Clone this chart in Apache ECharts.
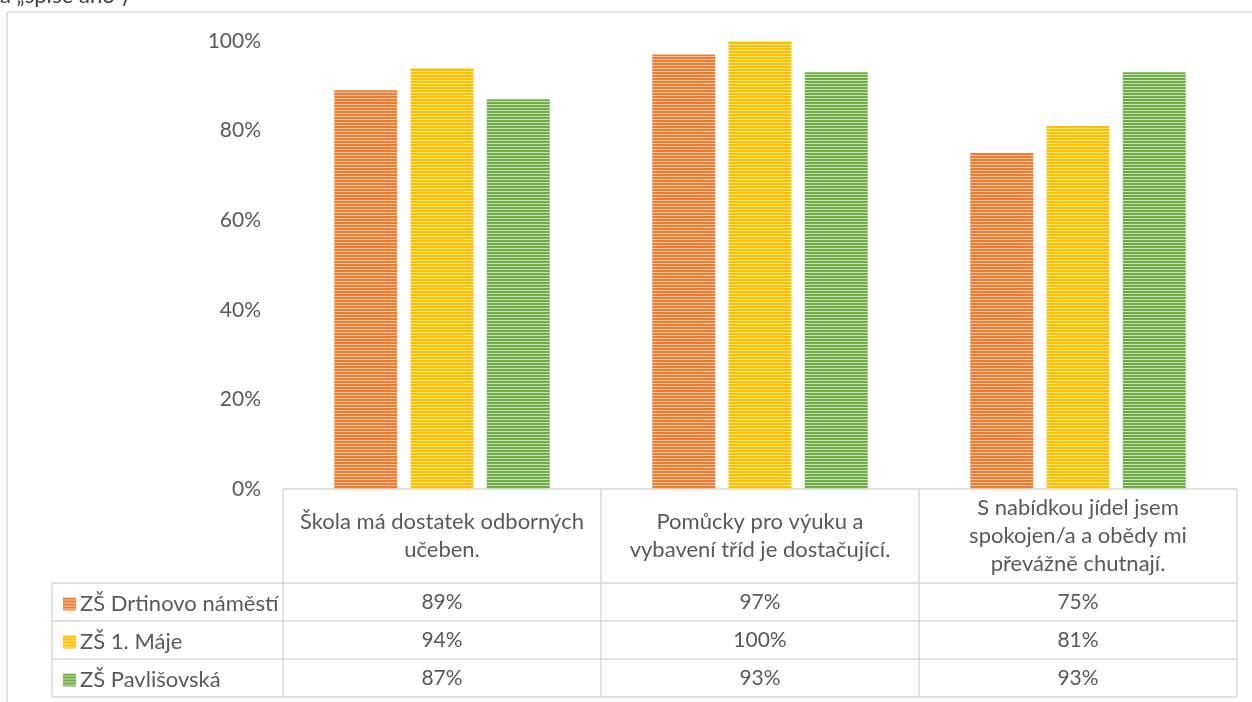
<!DOCTYPE html>
<html><head><meta charset="utf-8">
<script src="https://cdn.jsdelivr.net/npm/echarts@6/dist/echarts.min.js"></script>
<style>html,body{margin:0;padding:0;background:#fff}#c{width:1252px;height:702px}</style>
</head><body><div id="c"></div>
<script>
const categories = ['Škola má dostatek odborných učeben.', 'Pomůcky pro výuku a vybavení tříd je dostačující.', 'S nabídkou jídel jsem spokojen/a a obědy mi převážně chutnají.'];
const seriesNames = ['ZŠ Drtinovo náměstí', 'ZŠ 1. Máje', 'ZŠ Pavlišovská'];
const drtinovo = [89, 97, 75];
const maje = [94, 100, 81];
const pavlisovska = [87, 93, 93];
const seriesValues = [drtinovo, maje, pavlisovska];
const colors = [['#ED7D31', '#F7C3A0'], ['#FFC000', '#FFE38A'], ['#70AD47', '#C3DFB0']];
const FONT = 'Lato';
const TXT = '#595959';
const LINE = '#D9D9D9';
const TEXT_SIZE = 22, NUM_SIZE = 21;

function stripes(dark, light) {
  const c = document.createElement('canvas');
  c.width = 4; c.height = 3;
  const g = c.getContext('2d');
  g.fillStyle = dark; g.fillRect(0, 0, 4, 2);
  g.fillStyle = light; g.fillRect(0, 2, 4, 1);
  return { image: c, repeat: 'repeat' };
}

const measureCtx = document.createElement('canvas').getContext('2d');
function wrap(text, maxW, font) {
  measureCtx.font = font;
  const words = text.split(' ');
  const lines = [];
  let cur = '';
  for (const w of words) {
    const t = cur ? cur + ' ' + w : w;
    if (cur && measureCtx.measureText(t).width > maxW) { lines.push(cur); cur = w; }
    else cur = t;
  }
  if (cur) lines.push(cur);
  return lines.join('\n');
}

// layout
const G = { left: 283, right: 1237, top: 41, bottom: 489 };
const headerBottom = 583, rowH = 38, legendLeft = 52;
const rowCenters = seriesNames.map((_, i) => headerBottom + rowH * i + rowH / 2);
const tableBottom = headerBottom + rowH * seriesNames.length;
const colW = (G.right - G.left) / categories.length;

const graphics = [];
const ln = (x1, y1, x2, y2) => graphics.push({ type: 'line', silent: true, shape: { x1, y1, x2, y2 }, style: { stroke: LINE, lineWidth: 1.5 } });
// outer frame
ln(7, 12, 7, 702); ln(7, 12, 1252, 12);
// table
ln(G.left, G.bottom, G.right, G.bottom);
for (let i = 0; i <= categories.length; i++) ln(G.left + colW * i, G.bottom, G.left + colW * i, tableBottom);
for (let r = 0; r <= seriesNames.length; r++) ln(legendLeft, headerBottom + rowH * r, G.right, headerBottom + rowH * r);
ln(legendLeft, headerBottom, legendLeft, tableBottom);
// clipped heading text from the page above
graphics.push({ type: 'text', left: 0, top: -15, style: { text: 'a „spíše ano“)', font: '22px ' + FONT, fill: '#404040' } });

const xAxes = [{
  type: 'category', gridIndex: 0, data: categories, position: 'bottom',
  axisLine: { show: false }, axisTick: { show: false },
  axisLabel: { interval: 0, margin: (headerBottom - G.bottom) / 2, verticalAlign: 'middle', color: TXT,
    fontFamily: FONT, fontSize: TEXT_SIZE, lineHeight: 28, align: 'center',
    formatter: (v) => wrap(v, 290, TEXT_SIZE + 'px ' + FONT) }
}];
seriesValues.forEach((vals, i) => {
  xAxes.push({
    type: 'category', gridIndex: 0, data: categories, position: 'bottom', offset: rowCenters[i] - G.bottom,
    axisLine: { show: false }, axisTick: { show: false },
    axisLabel: { interval: 0, margin: 0, verticalAlign: 'middle', color: TXT, fontFamily: FONT, fontSize: NUM_SIZE,
      formatter: (v, idx) => vals[idx] + '%' }
  });
});

const chart = echarts.init(document.getElementById('c'));
chart.setOption({
  animation: false,
  textStyle: { fontFamily: FONT },
  grid: { left: G.left, right: 1252 - G.right, top: G.top, bottom: 702 - G.bottom },
  xAxis: xAxes,
  yAxis: {
    type: 'value', min: 0, max: 100, interval: 20,
    axisLine: { show: false }, axisTick: { show: false }, splitLine: { show: false },
    axisLabel: { formatter: '{value}%', color: TXT, fontFamily: FONT, fontSize: NUM_SIZE, margin: 22 }
  },
  legend: {
    orient: 'vertical', left: 58, top: rowCenters[0] - 14, itemGap: rowH - 22,
    itemWidth: 13, itemHeight: 13, icon: 'rect',
    textStyle: { color: TXT, fontFamily: FONT, fontSize: TEXT_SIZE, lineHeight: 22, padding: [0, 0, 0, -1] },
    data: seriesNames
  },
  graphic: graphics,
  series: seriesValues.map((vals, i) => ({
    type: 'bar', name: seriesNames[i], data: vals, xAxisIndex: 0,
    barWidth: 63, barGap: '21%',
    itemStyle: { color: stripes(colors[i][0], colors[i][1]) }
  }))
});
</script></body></html>
